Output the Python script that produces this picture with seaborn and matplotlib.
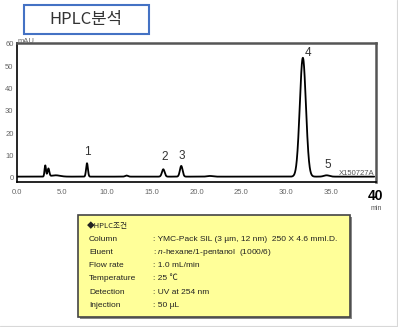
import numpy as np
import pandas as pd
import matplotlib
matplotlib.use("Agg")
import matplotlib.pyplot as plt
from matplotlib.patches import Rectangle
from matplotlib.lines import Line2D
from matplotlib.ticker import MultipleLocator
import seaborn as sns

sns.set_style("white")
plt.rcParams['font.family'] = ['Liberation Sans', 'Noto Sans CJK KR', 'DejaVu Sans']
plt.rcParams['mathtext.fontset'] = 'custom'
plt.rcParams['mathtext.it'] = 'Liberation Sans:italic'
plt.rcParams['mathtext.rm'] = 'Liberation Sans'

# ---- data ----
peak_times = [3.15, 3.5, 4.3, 7.8, 12.2, 16.3, 18.3, 21.5, 31.85, 34.5]
peak_heights = [5.0, 3.5, 0.6, 6.0, 0.5, 3.3, 4.8, 0.3, 53.2, 0.6]
peak_widths = [0.08, 0.10, 0.5, 0.10, 0.15, 0.15, 0.15, 0.3, 0.34, 0.30]
baseline_level = 0.6
label_names = ["1", "2", "3", "4", "5"]
label_x = [7.8, 16.4, 18.35, 32.45, 34.6]
label_y = [11.6, 9.3, 9.85, 55.8, 5.8]
x_ticks = [0, 5, 10, 15, 20, 25, 30, 35]
y_ticks = [0, 10, 20, 30, 40, 50, 60]
cond_labels = ["Column", "Eluent", "Flow rate", "Temperature", "Detection", "Injection"]
cond_values = [": YMC-Pack SIL (3 \u00b5m, 12 nm)  250 X 4.6 mmI.D.",
               r": $\it{n}$-hexane/1-pentanol  (1000/6)",
               ": 1.0 mL/min",
               ": 25 \u2103",
               ": UV at 254 nm",
               ": 50 \u00b5L"]

t = np.linspace(0, 39.8, 2400)
sig = np.full_like(t, baseline_level)
for c, h, w in zip(peak_times, peak_heights, peak_widths):
    sig += h * np.exp(-0.5 * ((t - c) / w) ** 2)
df = pd.DataFrame({"time": t, "mAU": sig})

fig = plt.figure(figsize=(3.98, 3.27), dpi=100)
ax = fig.add_axes([17 / 398, 1 - 182 / 327, (376 - 17) / 398, (182 - 43) / 327])
sns.lineplot(data=df, x="time", y="mAU", ax=ax, color="black", linewidth=1.3)
ax.set_xlim(0, 40)
ax.set_ylim(-1.8, 60.4)
ax.set_xlabel("")
ax.set_ylabel("")

ax.set_xticks(x_ticks)
ax.set_xticklabels([f"{v:.1f}" for v in x_ticks], fontsize=5.5, color="#666666")
ax.xaxis.set_minor_locator(MultipleLocator(1))
ax.set_yticks(y_ticks)
ax.set_yticklabels([str(v) for v in y_ticks], fontsize=5.5, color="#666666")
ax.yaxis.set_minor_locator(MultipleLocator(2))
ax.tick_params(axis='x', which='major', direction='out', length=3, width=1, pad=2, color='black')
ax.tick_params(axis='x', which='minor', direction='out', length=2, width=0.8, color='black')
ax.tick_params(axis='y', which='major', direction='inout', length=3, width=1, pad=1, color='black')
ax.tick_params(axis='y', which='minor', direction='inout', length=2, width=0.8, color='black')
for s in ["left", "bottom"]:
    ax.spines[s].set_color("black")
    ax.spines[s].set_linewidth(1.2)
for s in ["top", "right"]:
    ax.spines[s].set_color("#555555")
    ax.spines[s].set_linewidth(1.8)

for name, lx, ly in zip(label_names, label_x, label_y):
    ax.text(lx, ly, name, ha="center", va="center", fontsize=8.5, color="#333333")
ax.text(39.8, 2.1, "X150727A", ha="right", va="center", fontsize=5.5, color="#555555")

fig.text(18 / 398, 1 - 45 / 327, "mAU", fontsize=5.5, color="#666666", ha="left", va="bottom")
fig.text(376 / 398, 1 - 196 / 327, "40", fontsize=10, fontweight="bold", ha="center", va="center", color="black")
fig.text(376 / 398, 1 - 208 / 327, "min", fontsize=5, ha="center", va="center", color="#555555")

# title box
fig.patches.append(Rectangle((24 / 398, 1 - 34 / 327), (149 - 24) / 398, (34 - 5) / 327,
                             transform=fig.transFigure, facecolor="white",
                             edgecolor="#4472C4", linewidth=1.5))
fig.text(86 / 398, 1 - 19.5 / 327, "HPLC분석", fontsize=12, ha="center", va="center",
         color="#333333", family=["Noto Sans CJK KR", "DejaVu Sans"])

# conditions box
fig.patches.append(Rectangle((80 / 398, 1 - 319 / 327), (352 - 80) / 398, (319 - 217) / 327,
                             transform=fig.transFigure, facecolor="#888888",
                             edgecolor="none"))
fig.patches.append(Rectangle((78 / 398, 1 - 317 / 327), (350 - 78) / 398, (317 - 215) / 327,
                             transform=fig.transFigure, facecolor="#FFFF99",
                             edgecolor="#444444", linewidth=1.2))
fig.text(87 / 398, 1 - 225.7 / 327, "\u25c6HPLC조건", fontsize=5.5, ha="left", va="center",
         color="#222222", family=["Noto Sans CJK KR", "DejaVu Sans"])
for i, (lab, val) in enumerate(zip(cond_labels, cond_values)):
    yy = 1 - (239.3 + i * 13.2) / 327
    fig.text(89 / 398, yy, lab, fontsize=6, ha="left", va="center", color="#222222")
    fig.text(153 / 398, yy, val, fontsize=6, ha="left", va="center", color="#222222",
             family=["Liberation Sans", "Noto Sans CJK KR", "DejaVu Sans"])

# light outer frame lines (right and bottom only)
fig.lines.append(Line2D([396.5 / 398, 396.5 / 398], [1.5 / 327, 1], transform=fig.transFigure,
                        color="#d8d8d8", linewidth=0.8))
fig.lines.append(Line2D([0, 396.5 / 398], [1.5 / 327, 1.5 / 327], transform=fig.transFigure,
                        color="#d8d8d8", linewidth=0.8))

fig.savefig("out.png", dpi=100)
